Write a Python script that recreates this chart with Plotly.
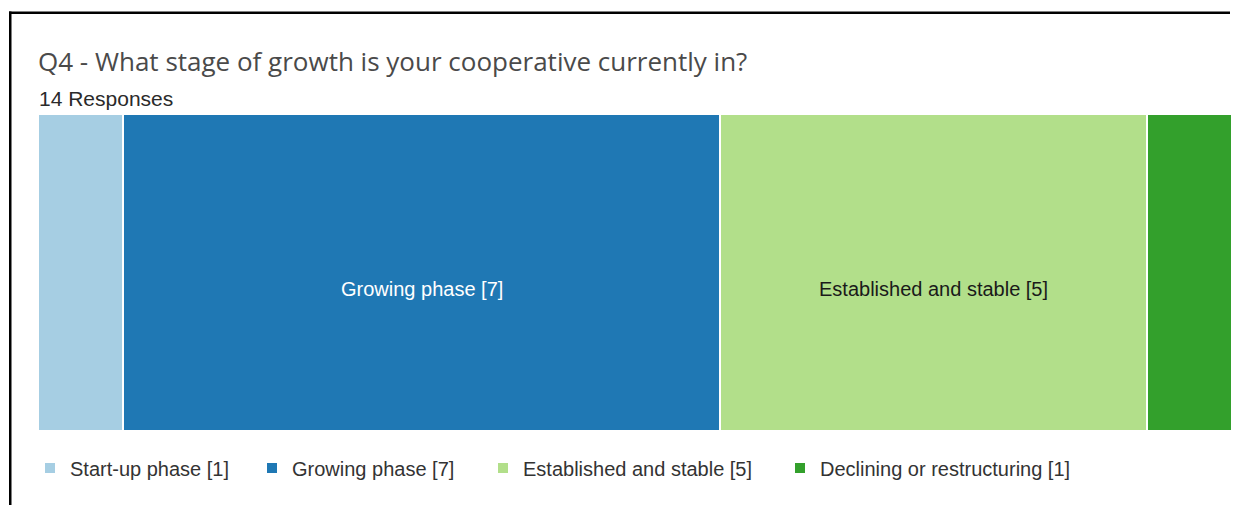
import plotly.graph_objects as go

# Survey responses for Q4
stages = ["Start-up phase", "Growing phase", "Established and stable", "Declining or restructuring"]
counts = [1, 7, 5, 1]
colors = ["#a6cee3", "#1f78b4", "#b2df8a", "#33a02c"]
label_colors = ["#1a1a1a", "#ffffff", "#1a1a1a", "#ffffff"]

title_text = "Q4 - What stage of growth is your cooperative currently in?"
total = sum(counts)
subtitle_text = f"{total} Responses"

W, H = 1252, 505
ML, MR, MT, MB = 38, 20, 114, 74
PW, PH = W - ML - MR, H - MT - MB

# Left edge (px) of each legend entry's text
legend_text_x = [70, 292, 523, 820]

SANS = "Liberation Sans, Arial, sans-serif"


def px_x(x):
    return (x - ML) / PW


def px_y(y):
    return (H - MB - y) / PH


fig = go.Figure()
legend_layouts = {}
for i, (name, n, col) in enumerate(zip(stages, counts, colors)):
    key = "legend" if i == 0 else f"legend{i + 1}"
    fig.add_trace(go.Bar(
        y=["Q4"], x=[n], orientation="h", name=f"{name} [{n}]",
        marker=dict(color=col, line=dict(color="#ffffff", width=2)),
        hoverinfo="name", legend=key,
    ))
    legend_layouts[key] = dict(
        orientation="h", x=px_x(legend_text_x[i] - 40), xanchor="left",
        y=px_y(468), yanchor="middle", bgcolor="rgba(0,0,0,0)",
        font=dict(family=SANS, size=20, color="#333333"),
    )

# In-bar labels for segments that are wide enough to hold them
annotations = []
cum = 0
for name, n, lc in zip(stages, counts, label_colors):
    if n / total * PW > 250:
        annotations.append(dict(
            x=cum + n / 2, y="Q4", xref="x", yref="y",
            text=f"{name} [{n}]", showarrow=False, yshift=-16,
            font=dict(family=SANS, size=20, color=lc),
        ))
    cum += n

annotations += [
    dict(x=px_x(36), y=px_y(61), xref="paper", yref="paper", xanchor="left", yanchor="middle",
         text=title_text, showarrow=False,
         font=dict(family="Open Sans, sans-serif", size=26, color="#4a4a4a")),
    dict(x=px_x(37), y=px_y(98), xref="paper", yref="paper", xanchor="left", yanchor="middle",
         text=subtitle_text, showarrow=False,
         font=dict(family=SANS, size=21, color="#2a2a2a")),
]

# Frame: top and left rules only, drawn as thin filled strips
shapes = [
    dict(type="rect", xref="paper", yref="paper", x0=px_x(9), x1=px_x(W - 22), y0=px_y(11.5), y1=px_y(14),
         fillcolor="#000000", line=dict(width=0)),
    dict(type="rect", xref="paper", yref="paper", x0=px_x(9), x1=px_x(11.5), y0=px_y(11.5), y1=px_y(H),
         fillcolor="#000000", line=dict(width=0)),
]

fig.update_layout(
    width=W, height=H,
    margin=dict(l=ML, r=MR, t=MT, b=MB),
    barmode="stack", bargap=0,
    paper_bgcolor="#ffffff", plot_bgcolor="#ffffff",
    showlegend=True,
    xaxis=dict(range=[0, total], visible=False, fixedrange=True),
    yaxis=dict(visible=False, fixedrange=True),
    annotations=annotations,
    shapes=shapes,
    **legend_layouts,
)

fig.write_html("out.html", config={"displayModeBar": False})
